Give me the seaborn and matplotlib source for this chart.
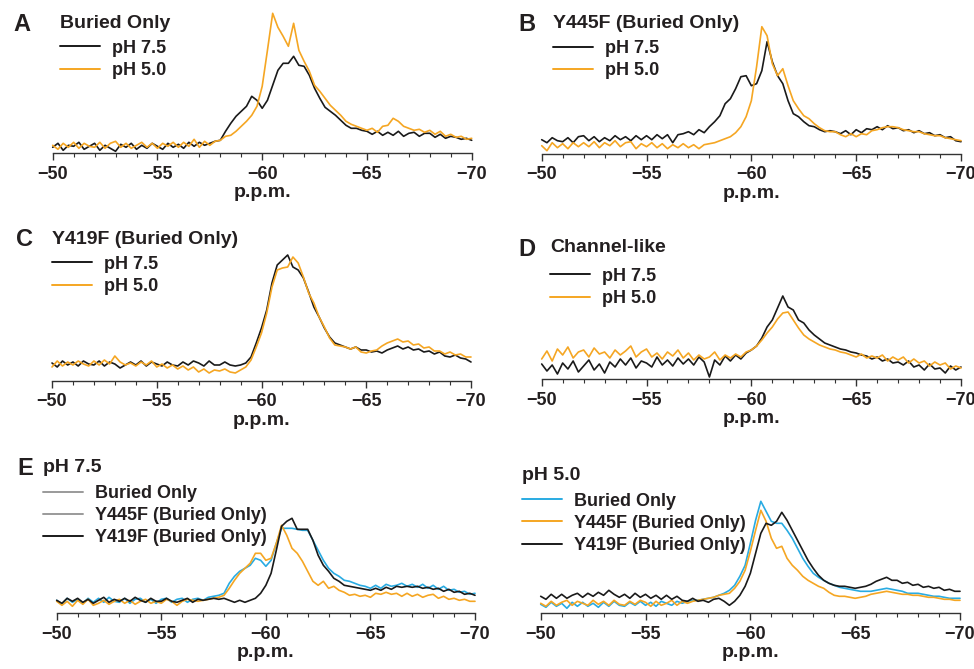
import numpy as np
import matplotlib
matplotlib.use("Agg")
import matplotlib.pyplot as plt
from matplotlib.ticker import MultipleLocator
import seaborn as sns

# chemical shift axis, -50 .. -70 p.p.m. in 0.25 steps
ppm = np.linspace(-50, -70, 81)

# intensities (arbitrary units), 4 values per p.p.m.
buried_75 = [6, 10, 3, 8, 7, 11, 4, 7, 10, 3, 8, 5, 2, 9, 6, 10, 4, 8, 5, 10,
             7, 4, 10, 6, 9, 5, 11, 7, 11, 8, 10, 12, 13, 22, 30, 37, 42, 47, 57, 53,
             45, 53, 68, 83, 90, 90, 97, 88, 87, 78, 65, 55, 46, 42, 38, 33, 28, 25, 25, 23,
             22, 19, 22, 18, 21, 18, 22, 17, 20, 21, 17, 20, 20, 16, 19, 15, 17, 16, 14, 15,
             13]
buried_50 = [8, 4, 10, 6, 11, 5, 10, 7, 6, 11, 5, 10, 12, 6, 10, 5, 8, 11, 6, 10,
             5, 10, 7, 11, 6, 11, 7, 14, 6, 12, 8, 12, 13, 17, 18, 22, 27, 32, 38, 47,
             67, 103, 140, 126, 117, 107, 130, 103, 92, 82, 68, 62, 55, 48, 43, 38, 32, 29, 27, 25,
             23, 25, 21, 27, 28, 35, 32, 27, 25, 23, 24, 21, 23, 19, 22, 17, 19, 16, 17, 14,
             15]

y445f_75 = [14, 11, 16, 13, 12, 16, 11, 17, 18, 13, 17, 12, 16, 13, 18, 14, 17, 13, 18, 14,
            18, 14, 19, 15, 19, 11, 19, 20, 22, 19, 24, 21, 27, 32, 38, 50, 55, 65, 77, 78,
            68, 70, 83, 112, 92, 78, 70, 53, 40, 37, 32, 28, 27, 24, 22, 23, 22, 20, 23, 19,
            24, 21, 25, 24, 27, 24, 28, 25, 26, 23, 24, 21, 23, 20, 21, 18, 19, 16, 17, 13,
            12]
y445f_50 = [8, 3, 11, 6, 10, 5, 11, 7, 11, 7, 12, 6, 11, 8, 13, 7, 11, 12, 5, 10,
            7, 11, 6, 10, 5, 9, 6, 10, 6, 9, 5, 9, 10, 11, 13, 15, 17, 21, 27, 37,
            53, 87, 127, 118, 90, 78, 85, 68, 53, 45, 38, 35, 30, 26, 23, 22, 22, 19, 17, 20,
            17, 20, 19, 23, 24, 26, 27, 27, 26, 24, 23, 22, 22, 20, 19, 18, 18, 16, 15, 14,
            13]

y419f_75 = [18, 14, 20, 16, 19, 15, 20, 17, 16, 20, 15, 19, 17, 13, 16, 19, 16, 20, 15, 19,
            17, 15, 19, 16, 15, 19, 16, 20, 18, 15, 20, 16, 16, 19, 16, 15, 16, 18, 24, 38,
            53, 71, 98, 116, 121, 126, 114, 111, 103, 89, 74, 64, 53, 44, 38, 36, 34, 32, 34, 31,
            31, 29, 30, 28, 31, 33, 35, 32, 34, 31, 32, 29, 30, 27, 29, 25, 24, 26, 23, 22,
            19]
y419f_50 = [14, 20, 15, 19, 16, 20, 17, 15, 20, 16, 21, 17, 25, 19, 16, 18, 15, 19, 16, 20,
            14, 17, 13, 16, 12, 15, 11, 14, 9, 12, 8, 11, 10, 12, 9, 8, 11, 14, 21, 34,
            48, 68, 94, 111, 113, 114, 124, 118, 104, 88, 78, 64, 54, 43, 36, 35, 34, 32, 34, 29,
            28, 30, 31, 35, 38, 40, 42, 39, 40, 36, 37, 33, 34, 30, 30, 27, 29, 26, 27, 24,
            24]

channel_75 = [15, 8, 14, 5, 16, 10, 18, 7, 13, 19, 9, 15, 6, 17, 12, 20, 14, 21, 11, 18,
              16, 12, 22, 14, 19, 13, 21, 15, 20, 14, 22, 17, 2, 19, 14, 23, 18, 24, 20, 26,
              29, 33, 41, 52, 59, 71, 83, 72, 69, 59, 56, 49, 44, 40, 36, 34, 32, 30, 29, 27,
              26, 24, 23, 20, 22, 18, 20, 16, 17, 14, 18, 12, 14, 9, 15, 10, 11, 6, 13, 9,
              12]
channel_50 = [20, 28, 18, 30, 24, 32, 21, 27, 29, 22, 31, 25, 27, 21, 29, 24, 28, 33, 22, 27,
              30, 22, 26, 20, 27, 23, 29, 21, 26, 19, 24, 20, 22, 27, 19, 24, 21, 25, 22, 27,
              29, 33, 39, 46, 52, 60, 66, 67, 59, 51, 44, 40, 37, 34, 32, 30, 29, 27, 26, 24,
              22, 25, 21, 23, 21, 24, 18, 22, 19, 22, 16, 20, 16, 18, 13, 17, 14, 16, 10, 13,
              11]

e75_buried = [13, 9, 15, 11, 14, 10, 15, 11, 15, 11, 16, 12, 11, 15, 10, 14, 15, 11, 14, 10,
              14, 15, 11, 14, 15, 11, 14, 15, 13, 16, 17, 18, 20, 30, 37, 42, 45, 48, 55, 53,
              47, 53, 70, 85, 85, 85, 84, 83, 83, 73, 63, 53, 45, 40, 37, 33, 32, 30, 28, 27,
              25, 28, 25, 29, 27, 28, 30, 27, 29, 26, 29, 25, 28, 24, 27, 23, 24, 21, 22, 19,
              20]
e75_y445f = [12, 8, 12, 7, 13, 9, 14, 8, 10, 13, 9, 12, 14, 10, 13, 9, 12, 14, 10, 12,
             10, 14, 12, 8, 12, 14, 13, 12, 13, 14, 15, 16, 18, 25, 33, 40, 45, 50, 60, 60,
             53, 55, 70, 88, 78, 65, 60, 52, 42, 32, 28, 32, 25, 27, 23, 21, 18, 19, 17, 18,
             16, 20, 19, 21, 19, 20, 17, 20, 17, 19, 16, 18, 19, 15, 17, 14, 15, 13, 14, 12,
             12]
e75_y419f = [13, 10, 15, 12, 15, 11, 14, 10, 13, 16, 11, 14, 12, 15, 12, 16, 13, 11, 15, 12,
             12, 15, 12, 11, 13, 15, 11, 14, 13, 14, 15, 14, 15, 13, 11, 13, 11, 13, 15, 20,
             28, 40, 63, 87, 92, 95, 84, 84, 84, 73, 58, 48, 42, 35, 32, 28, 27, 26, 25, 24,
             23, 25, 23, 26, 24, 27, 26, 27, 26, 27, 25, 26, 24, 25, 22, 24, 21, 22, 19, 20,
             18]

e50_buried = [9, 6, 11, 7, 10, 5, 11, 7, 11, 7, 10, 6, 11, 7, 12, 8, 7, 11, 8, 12,
              8, 11, 7, 12, 10, 8, 12, 10, 12, 13, 13, 14, 15, 16, 18, 20, 23, 28, 37, 48,
              70, 93, 112, 102, 92, 90, 90, 83, 75, 65, 55, 47, 40, 36, 33, 30, 28, 26, 25, 24,
              23, 22, 22, 22, 23, 24, 25, 24, 23, 22, 20, 20, 20, 19, 18, 17, 17, 16, 15, 15,
              15]
e50_y445f = [10, 7, 12, 8, 11, 13, 8, 12, 10, 8, 13, 9, 12, 8, 13, 9, 8, 12, 9, 13,
             11, 7, 12, 8, 10, 13, 8, 12, 10, 12, 13, 14, 15, 16, 18, 19, 20, 25, 32, 43,
             62, 83, 103, 92, 75, 65, 67, 55, 48, 43, 37, 33, 30, 27, 25, 21, 18, 17, 17, 16,
             15, 16, 17, 19, 20, 21, 22, 21, 20, 19, 19, 18, 18, 17, 16, 16, 15, 14, 14, 13,
             13]
e50_y419f = [17, 14, 19, 15, 19, 15, 18, 20, 16, 20, 17, 21, 18, 23, 19, 16, 19, 15, 20, 16,
             19, 15, 18, 14, 18, 14, 17, 13, 12, 15, 12, 13, 11, 14, 15, 12, 8, 12, 18, 27,
             40, 60, 80, 90, 88, 92, 101, 93, 83, 73, 63, 53, 45, 38, 33, 30, 28, 27, 27, 26,
             25, 26, 27, 29, 32, 34, 36, 33, 33, 30, 31, 28, 29, 26, 27, 25, 26, 23, 24, 22,
             22]

ph_labels = ["pH 7.5", "pH 5.0"]
variant_labels = ["Buried Only", "Y445F (Buried Only)", "Y419F (Buried Only)"]
panel_titles = ["Buried Only", "Y445F (Buried Only)", "Y419F (Buried Only)", "Channel-like"]

BLACK = "#1a1a1a"
ORANGE = "#f5a623"
CYAN = "#29abe2"
TXT = "#231f20"

sns.set_theme(style="white")
plt.rcParams["font.family"] = ["Liberation Sans", "DejaVu Sans"]
plt.rcParams["font.weight"] = "bold"

W, H = 974, 669
fig = plt.figure(figsize=(W / 100, H / 100), dpi=100)


def add_ax(left, right, base, height=150):
    ax = fig.add_axes([left / W, 1 - base / H, (right - left) / W, height / H])
    ax.set_facecolor("none")
    ax.set_xlim(-50, -70)
    ax.set_ylim(0, height)
    ax.set_xticks([-50, -55, -60, -65, -70])
    ax.xaxis.set_minor_locator(MultipleLocator(1))
    ax.set_yticks([])
    sns.despine(ax=ax, left=True)
    ax.spines["bottom"].set_color("#333333")
    ax.spines["bottom"].set_linewidth(1.0)
    ax.tick_params(axis="x", which="major", bottom=True, direction="out", length=5, width=1,
                   color="#333333", labelsize=13, labelcolor=TXT, pad=4)
    ax.tick_params(axis="x", which="minor", bottom=True, direction="out", length=3, width=0.8,
                   color="#333333")
    for lbl in ax.get_xticklabels():
        lbl.set_fontweight("bold")
    ax.set_xlabel("p.p.m.", fontsize=14, fontweight="bold", color=TXT, labelpad=1)
    return ax


def draw(ax, series, colors, labels):
    for vals, c, lab in zip(series, colors, labels):
        sns.lineplot(x=ppm, y=vals, ax=ax, color=c, lw=1.2, label=lab, clip_on=False)


def legend(ax, title, x, top, title_gap=5.2):
    leg = ax.legend(loc="upper left", bbox_to_anchor=(x / W, 1 - top / H),
                    bbox_transform=fig.transFigure, frameon=False, title=title,
                    borderpad=0, borderaxespad=0, handlelength=2.2, handletextpad=0.7,
                    labelspacing=0.29, alignment="left",
                    prop={"size": 13, "weight": "bold"},
                    title_fontproperties={"size": 14, "weight": "bold"})
    leg._legend_box.sep = title_gap
    for t in leg.get_texts():
        t.set_color(TXT)
    for ln in leg.get_lines():
        ln.set_linewidth(1.4)
    leg.get_title().set_color(TXT)
    return leg


# A
ax_a = add_ax(52.7, 471.7, 153.3)
draw(ax_a, [buried_75, buried_50], [BLACK, ORANGE], ph_labels)
legend(ax_a, panel_titles[0], 60, 15.5)

# B
ax_b = add_ax(541.7, 961, 153.7)
draw(ax_b, [y445f_75, y445f_50], [BLACK, ORANGE], ph_labels)
legend(ax_b, panel_titles[1], 553, 14.5, title_gap=6)

# C
ax_c = add_ax(52, 471, 381)
draw(ax_c, [y419f_75, y419f_50], [BLACK, ORANGE], ph_labels)
legend(ax_c, panel_titles[2], 52, 231.5)

# D
ax_d = add_ax(541.7, 961, 379)
draw(ax_d, [channel_75, channel_50], [BLACK, ORANGE], ph_labels)
legend(ax_d, panel_titles[3], 550, 238.5, title_gap=8.8)

# E, pH 7.5
ax_e1 = add_ax(56.7, 475, 613.3)
draw(ax_e1, [e75_buried, e75_y445f, e75_y419f], [CYAN, ORANGE, BLACK], variant_labels)
leg = legend(ax_e1, ph_labels[0], 43, 459.5, title_gap=6)
for ln in leg.get_lines()[:2]:
    ln.set_color("#9a9a9a")

# E, pH 5.0
ax_e2 = add_ax(540.7, 960, 613.3)
draw(ax_e2, [e50_buried, e50_y445f, e50_y419f], [CYAN, ORANGE, BLACK], variant_labels)
legend(ax_e2, ph_labels[1], 522, 466.5, title_gap=6.5)

for letter, x, y in [("A", 13, 13), ("B", 518, 13), ("C", 16, 228), ("D", 518, 238), ("E", 17, 457)]:
    fig.text(x / W, 1 - y / H, letter, fontsize=17, fontweight="bold", color=TXT,
             ha="left", va="top")

fig.savefig("out.png", dpi=100, facecolor="white")
